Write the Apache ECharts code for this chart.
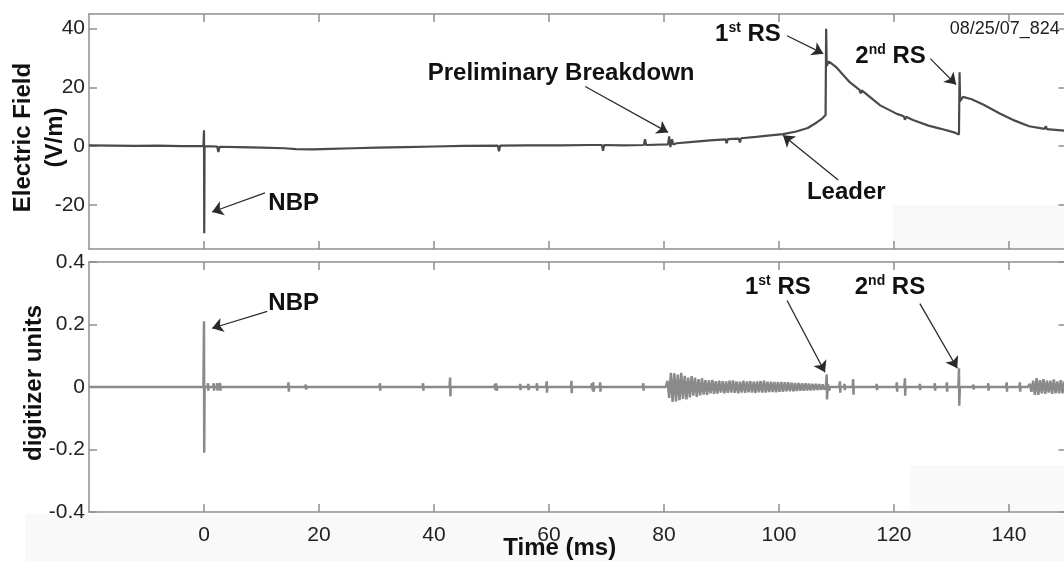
<!DOCTYPE html>
<html>
<head>
<meta charset="utf-8">
<script src="https://cdn.jsdelivr.net/npm/echarts@6.0.0/dist/echarts.min.js"></script>
<style>
  html, body { margin: 0; padding: 0; background: #ffffff; }
  #chart { width: 1064px; height: 561px; }
</style>
</head>
<body>
<div id="chart"></div>
<script>
// Tick positions
const timeTicks = [0, 20, 40, 60, 80, 100, 120, 140];
const fieldTicks = [-20, 0, 20, 40];
const digitTicks = [-0.4, -0.2, 0, 0.2, 0.4];

// Electric field record (time in ms, field in V/m)
const eField = [
  [-20, 0.3], [-16, 0.2], [-12, 0.1], [-8, 0.2], [-4, 0.0], [-0.1, 0.1],
  [0, 5.4], [0.04, -29.6], [0.1, 0.0],
  [2.3, -0.1], [2.5, -2.0], [2.7, -0.2], [6, -0.3], [10, -0.5], [14, -0.7],
  [16, -1.0], [19, -1.1], [22, -0.9], [26, -0.7], [30, -0.5], [35, -0.3],
  [40, -0.1], [45, 0.1], [51.1, 0.2], [51.3, -1.7], [51.5, 0.2], [56, 0.3],
  [62, 0.3], [67, 0.4], [69.2, 0.4], [69.4, -1.6], [69.6, 0.4], [73, 0.3],
  [76.5, 0.4], [76.7, 2.4], [76.9, 0.4], [80.7, 0.6], [80.9, 3.3], [81.1, -0.3],
  [81.4, 2.4], [81.6, 0.6], [82.2, 1.0], [85, 1.5], [88, 2.0], [90.7, 2.3],
  [90.9, 1.0], [91.1, 2.4], [93, 2.6], [93.2, 1.3], [93.4, 2.7], [96, 3.2],
  [98.5, 3.7], [100.7, 4.1], [103, 5.0], [105, 6.2], [106.5, 8.0], [107.5, 9.4],
  [108.1, 10.6], [108.2, 40], [108.3, 27.4], [108.7, 28.8], [110, 26.8],
  [112.3, 21.8], [114, 19.2], [114.2, 18.0], [114.4, 19.0], [117.6, 13.9],
  [120.5, 11.0], [121.7, 10.2], [121.9, 9.0], [122.1, 10.0], [123.3, 8.9],
  [126, 7.0], [128, 6.0], [130.6, 4.6], [131.3, 4.0], [131.4, 25.2],
  [131.5, 15.3], [132, 16.8], [133.5, 16.0], [135.5, 14.2], [138.4, 11.1],
  [141, 8.7], [143.5, 6.8], [146.2, 5.9], [146.4, 6.8], [146.6, 5.8], [150, 5.2]
];

// Digitizer record, quiet stretch before the preliminary breakdown
const digitQuiet = [
  [-20, 0], [-13.3, 0], [-13.2, 0.006], [-13.15, -0.006], [-13.1, 0],
  [-0.1, 0], [0, 0.21], [0.04, -0.21], [0.1, 0],
  [0.6, 0], [0.7, 0.012], [0.75, -0.012], [0.8, 0],
  [1.6, 0], [1.7, 0.012], [1.75, -0.012], [1.8, 0],
  [2.2, 0], [2.3, 0.012], [2.35, -0.012], [2.4, 0],
  [2.7, 0], [2.8, 0.012], [2.85, -0.012], [2.9, 0],
  [14.6, 0], [14.7, 0.015], [14.75, -0.015], [14.8, 0],
  [17.6, 0], [17.7, 0.008], [17.75, -0.008], [17.8, 0],
  [30.5, 0], [30.6, 0.012], [30.65, -0.012], [30.7, 0],
  [38.0, 0], [38.1, 0.012], [38.15, -0.012], [38.2, 0],
  [42.7, 0], [42.8, 0.03], [42.85, -0.03], [42.9, 0],
  [50.5, 0], [50.6, 0.01], [50.7, -0.01], [50.8, 0.012], [50.9, -0.012], [51.0, 0],
  [54.9, 0], [55.0, 0.01], [55.05, -0.01], [55.1, 0],
  [56.3, 0], [56.4, 0.01], [56.45, -0.01], [56.5, 0],
  [57.8, 0], [57.9, 0.012], [57.95, -0.012], [58.0, 0],
  [59.5, 0], [59.6, 0.018], [59.65, -0.018], [59.7, 0],
  [63.8, 0], [63.9, 0.02], [63.95, -0.02], [64.0, 0],
  [67.3, 0], [67.5, 0.012], [67.6, -0.012], [67.7, 0.015], [67.75, -0.015], [67.9, 0],
  [68.8, 0], [68.9, 0.015], [68.95, -0.015], [69.0, 0],
  [76.3, 0], [76.4, 0.012], [76.45, -0.012], [76.5, 0],
  [80.3, 0]
];

// Digitizer record, oscillation burst from the preliminary breakdown to the first return stroke
const digitBurst = [
  [80.6, 0.02], [80.9, -0.035], [81.2, 0.045], [81.5, -0.048], [81.8, 0.044],
  [82.1, -0.046], [82.4, 0.04], [82.7, -0.042], [83.0, 0.045], [83.3, -0.038],
  [83.6, 0.036], [83.9, -0.04], [84.2, 0.03], [84.5, -0.033], [84.8, 0.035],
  [85.1, -0.028], [85.4, 0.03], [85.7, -0.032], [86.0, 0.025], [86.3, -0.027],
  [86.6, 0.028], [86.9, -0.024], [87.2, 0.022], [87.5, -0.025], [87.8, 0.021],
  [88.1, -0.02], [88.4, 0.023], [88.7, -0.022], [89.0, 0.019], [89.3, -0.021],
  [89.6, 0.02], [89.9, -0.018], [90.2, 0.019], [90.5, -0.02], [90.8, 0.018],
  [91.1, -0.019], [91.4, 0.02], [91.7, -0.018], [92.0, 0.021], [92.3, -0.019],
  [92.6, 0.018], [92.9, -0.02], [93.2, 0.017], [93.5, -0.018], [93.8, 0.02],
  [94.1, -0.019], [94.4, 0.018], [94.7, -0.017], [95.0, 0.019], [95.3, -0.018],
  [95.6, 0.017], [95.9, -0.019], [96.2, 0.018], [96.5, -0.017], [96.8, 0.019],
  [97.1, -0.018], [97.4, 0.02], [97.7, -0.018], [98.0, 0.017], [98.3, -0.016],
  [98.6, 0.017], [98.9, -0.016], [99.2, 0.016], [99.5, -0.017], [99.8, 0.016],
  [100.1, -0.015], [100.4, 0.016], [100.7, -0.015], [101.0, 0.015], [101.3, -0.014],
  [101.6, 0.015], [101.9, -0.014], [102.2, 0.014], [102.5, -0.014], [102.8, 0.013],
  [103.1, -0.013], [103.4, 0.013], [103.7, -0.012], [104.0, 0.012], [104.3, -0.012],
  [104.6, 0.012], [104.9, -0.011], [105.2, 0.011], [105.5, -0.011], [105.8, 0.01],
  [106.1, -0.01], [106.4, 0.01], [106.7, -0.009], [107.0, 0.009], [107.3, -0.009],
  [107.6, 0.008], [107.9, -0.008], [108.15, 0], [108.3, 0.04], [108.35, -0.04],
  [108.5, 0.01], [108.7, -0.012], [108.9, 0]
];

// Digitizer record after the first return stroke
const digitAfter = [
  [110.5, 0], [110.6, 0.018], [110.65, -0.018], [110.7, 0],
  [111.3, 0], [111.4, 0.01], [111.45, -0.01], [111.5, 0],
  [112.8, 0], [112.9, 0.025], [112.95, -0.025], [113.0, 0],
  [116.9, 0], [117.0, 0.01], [117.05, -0.01], [117.1, 0],
  [120.4, 0], [120.5, 0.015], [120.55, -0.015], [120.6, 0],
  [121.8, 0], [121.9, 0.028], [121.95, -0.028], [122.0, 0],
  [124.4, 0], [124.5, 0.01], [124.55, -0.01], [124.6, 0],
  [127.0, 0], [127.1, 0.012], [127.15, -0.012], [127.2, 0],
  [129.1, 0], [129.2, 0.015], [129.25, -0.015], [129.3, 0],
  [131.2, 0], [131.3, 0.06], [131.35, -0.06], [131.45, 0],
  [133.7, 0], [133.8, 0.008], [133.85, -0.008], [133.9, 0],
  [136.3, 0], [136.4, 0.012], [136.45, -0.012], [136.5, 0],
  [139.5, 0], [139.6, 0.015], [139.65, -0.015], [139.7, 0],
  [141.8, 0], [141.9, 0.015], [141.95, -0.015], [142.0, 0],
  [143.3, 0], [143.6, 0.01], [143.9, -0.015], [144.2, 0.02], [144.5, -0.025],
  [144.8, 0.028], [145.1, -0.025], [145.4, 0.022], [145.7, -0.02], [146.0, 0.025],
  [146.3, -0.022], [146.6, 0.02], [146.9, -0.018], [147.2, 0.02], [147.5, -0.022],
  [147.8, 0.024], [148.1, -0.02], [148.4, 0.018], [148.7, -0.02], [149.0, 0.022],
  [149.3, -0.02], [149.6, 0.018], [149.9, -0.017], [150, 0]
];

// Annotation text anchors [time, value] and arrows [from, to]
const fieldNotes = [
  { at: [15.6, -19.3], text: 'NBP' },
  { at: [62.1, 24.7], text: 'Preliminary Breakdown' },
  { at: [94.6, 38.2], text: '{n|1}{s|st}{n| RS}' },
  { at: [119.4, 30.6], text: '{n|2}{s|nd}{n| RS}' },
  { at: [111.7, -15.6], text: 'Leader' }
];
const fieldArrows = [
  [[10.6, -15.9], [1.4, -22.4]],
  [[66.3, 20.3], [80.7, 4.7]],
  [[101.4, 37.6], [107.7, 31.5]],
  [[126.3, 29.8], [130.8, 21.0]],
  [[110.3, -11.5], [100.7, 3.7]]
];
const digitNotes = [
  { at: [15.6, 0.268], text: 'NBP' },
  { at: [99.8, 0.319], text: '{n|1}{s|st}{n| RS}' },
  { at: [119.3, 0.319], text: '{n|2}{s|nd}{n| RS}' }
];
const digitArrows = [
  [[11.0, 0.242], [1.4, 0.188]],
  [[101.4, 0.277], [108.0, 0.047]],
  [[124.5, 0.267], [131.0, 0.06]]
];
const recordId = { at: [129.7, 40], text: '08/25/07_824' };

const FONT = 'Liberation Sans, Arial, sans-serif';
const AXIS = '#8e8e8e';
const TEXT = '#111111';

const richSup = {
  n: { fontSize: 24, fontWeight: 'bold', color: TEXT, fontFamily: FONT, lineHeight: 26 },
  s: { fontSize: 14, fontWeight: 'bold', color: TEXT, fontFamily: FONT, verticalAlign: 'top' }
};

function noteLabel(note) {
  return {
    coord: note.at,
    label: { formatter: note.text }
  };
}

function markPoints(notes) {
  return {
    silent: true,
    symbol: 'circle',
    symbolSize: 0,
    label: {
      show: true,
      position: 'inside',
      fontSize: 24,
      fontWeight: 'bold',
      color: TEXT,
      fontFamily: FONT,
      rich: richSup
    },
    data: notes.map(noteLabel)
  };
}

function markArrows(arrows) {
  return {
    silent: true,
    symbol: ['none', 'arrow'],
    symbolSize: 11,
    label: { show: false },
    lineStyle: { color: '#2a2a2a', width: 1.3, type: 'solid' },
    itemStyle: { color: '#1a1a1a' },
    emphasis: { disabled: true },
    data: arrows.map(a => [{ coord: a[0] }, { coord: a[1] }])
  };
}

function xAxisOf(grid, position, showLabels, name) {
  return {
    type: 'value', gridIndex: grid, position: position,
    min: -20, max: 150,
    name: name || '',
    nameLocation: 'middle',
    nameGap: 24,
    nameMoveOverlap: false,
    nameTextStyle: {
      fontSize: 24, fontWeight: 'bold', color: TEXT, fontFamily: FONT,
      lineHeight: 24, padding: [0, 36, 0, 0]
    },
    axisLine: { show: true, onZero: false, lineStyle: { color: AXIS, width: 1.5 } },
    axisTick: { show: true, inside: true, length: 8, customValues: timeTicks,
      lineStyle: { color: AXIS, width: 1.5 } },
    axisLabel: { show: showLabels, customValues: timeTicks, margin: 13,
      fontSize: 21, color: '#222', fontFamily: FONT },
    splitLine: { show: false }
  };
}

function yAxisOf(grid, position, min, max, ticks, showLabels, name, gap, pad) {
  return {
    type: 'value', gridIndex: grid, position: position,
    min: min, max: max,
    name: name || '',
    nameLocation: 'middle',
    nameGap: gap || 0,
    nameMoveOverlap: false,
    nameTextStyle: {
      fontSize: 24, fontWeight: 'bold', color: TEXT, fontFamily: FONT,
      lineHeight: 32, padding: pad || 0
    },
    axisLine: { show: true, onZero: false, lineStyle: { color: AXIS, width: 1.5 } },
    axisTick: { show: true, inside: true, length: 8, customValues: ticks,
      lineStyle: { color: AXIS, width: 1.5 } },
    axisLabel: { show: showLabels, customValues: ticks, margin: 4,
      fontSize: 21, color: '#222', fontFamily: FONT },
    splitLine: { show: false }
  };
}

const chart = echarts.init(document.getElementById('chart'), null, { renderer: 'canvas' });

chart.setOption({
  animation: false,
  backgroundColor: '#ffffff',
  graphic: [
    { type: 'rect', z: -10, shape: { x: 893, y: 205, width: 175, height: 43 }, style: { fill: '#f9f9f9' } },
    { type: 'rect', z: -10, shape: { x: 910, y: 465, width: 158, height: 46 }, style: { fill: '#f9f9f9' } },
    { type: 'rect', z: -10, shape: { x: 25, y: 514, width: 1039, height: 47 }, style: { fill: '#f9f9f9' } }
  ],
  grid: [
    { left: 89, top: 14, width: 977.5, height: 235, outerBoundsMode: 'none', containLabel: false },
    { left: 89, top: 262, width: 977.5, height: 250, outerBoundsMode: 'none', containLabel: false }
  ],
  xAxis: [
    xAxisOf(0, 'bottom', false),
    xAxisOf(0, 'top', false),
    xAxisOf(1, 'bottom', true, 'Time (ms)'),
    xAxisOf(1, 'top', false)
  ],
  yAxis: [
    yAxisOf(0, 'left', -35, 45, fieldTicks, true, 'Electric Field\n(V/m)', 18, [0, 12, 0, 0]),
    yAxisOf(0, 'right', -35, 45, fieldTicks, false),
    yAxisOf(1, 'left', -0.4, 0.4, digitTicks, true, 'digitizer units', 39, [0, 0, 0, 8]),
    yAxisOf(1, 'right', -0.4, 0.4, digitTicks, false)
  ],
  series: [
    {
      name: 'Electric Field',
      type: 'line',
      xAxisIndex: 0, yAxisIndex: 0,
      data: eField,
      showSymbol: false, symbol: 'none',
      lineStyle: { color: '#4a4a4a', width: 2.2 },
      markPoint: markPoints(fieldNotes),
      markLine: markArrows(fieldArrows)
    },
    {
      name: 'Record',
      type: 'line',
      xAxisIndex: 0, yAxisIndex: 0,
      data: [],
      markPoint: {
        silent: true, symbol: 'circle', symbolSize: 0,
        label: { show: true, position: 'inside', align: 'left',
          fontSize: 18, color: '#222', fontFamily: FONT, formatter: recordId.text },
        data: [{ coord: recordId.at }]
      }
    },
    {
      name: 'Digitizer',
      type: 'line',
      xAxisIndex: 2, yAxisIndex: 2,
      data: digitQuiet.concat(digitBurst, digitAfter),
      showSymbol: false, symbol: 'none',
      lineStyle: { color: '#8a8a8a', width: 2.5 },
      markPoint: markPoints(digitNotes),
      markLine: markArrows(digitArrows)
    }
  ]
});
</script>
</body>
</html>
